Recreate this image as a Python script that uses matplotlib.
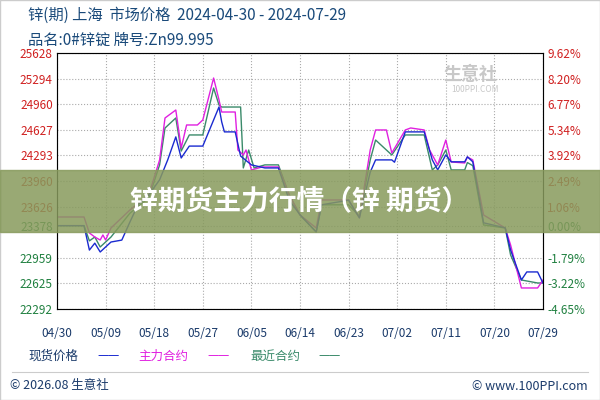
import matplotlib.pyplot as plt
import numpy as np

plt.rcParams['font.family'] = ['Noto Sans CJK SC', 'DejaVu Sans']

# days since 2024-04-30
spot_day = [0, 5, 6, 7, 8, 10, 12, 13.5, 15, 17, 19, 20.5, 22, 23, 24.5, 27, 30, 30.5, 31, 33, 34, 36, 38.5, 41,
            43, 45, 48, 49, 54, 56, 58, 59, 62, 62.5, 64.5, 68, 69.5, 70.5, 72, 73, 75.5, 76, 77, 79, 83, 84, 86, 87, 89, 90]
spot = [23378, 23378, 23060, 23150, 23035, 23165, 23190, 23425, 23650, 23780, 23975, 24235, 24535, 24260, 24415, 24415,
        24925, 24730, 24600, 24600, 24285, 24170, 24130, 24130, 23710, 23520, 23295, 23650, 23710, 23480, 24075, 24235,
        24235, 24205, 24600, 24600, 24235, 24105, 24300, 24210, 24210, 24275, 24210, 23415, 23350, 23060, 22670, 22775,
        22775, 22630]

main_day = [0, 5, 6, 7, 8, 8.5, 9, 10, 13.5, 17, 19, 20, 22, 23, 24, 26, 27, 29, 30, 30.5, 33, 33.5, 34.5, 35, 36, 38,
            41, 43, 45, 48, 49, 54, 56, 58, 59, 61, 62, 64.5, 65.5, 68, 69, 70.5, 72, 73, 75.5, 76, 77, 79, 83, 84, 86, 89, 90]
main = [23491, 23491, 23283, 23230, 23191, 23257, 23191, 23348, 23582, 23778, 24234, 24781, 24885, 24390, 24690, 24690,
        24755, 25302, 25016, 24859, 24859, 24364, 24299, 24364, 24104, 24143, 24143, 23778, 23517, 23348, 23713, 23713,
        23480, 24364, 24625, 24625, 24325, 24625, 24651, 24625, 24364, 24169, 24494, 24208, 24195, 24273, 24234, 23517,
        23348, 23126, 22566, 22566, 22670]

near_day = [0, 5, 6, 7, 8, 10, 13.5, 17, 19, 20, 22, 23, 24.5, 27, 29, 30, 30.5, 31, 34, 34.5, 35.5, 36.5, 38.5, 41,
            43, 45, 48, 49, 54, 56, 58, 59, 62, 64.5, 68, 69.5, 70.5, 72, 73, 75.5, 76, 77, 79, 83, 84, 86, 89, 90]
near = [23378, 23378, 23180, 23230, 23100, 23230, 23540, 23740, 24170, 24650, 24781, 24350, 24560, 24560, 25172, 24950,
        24924, 24924, 24924, 24130, 24364, 24130, 24170, 24170, 23778, 23517, 23296, 23650, 23650, 23500, 24234, 24494,
        24299, 24560, 24560, 24104, 24169, 24364, 24104, 24104, 24200, 24160, 23387, 23348, 22996, 22670, 22631, 22631]

yticks = [25628, 25294, 24960, 24627, 24293, 23960, 23626, 23378, 22959, 22625, 22292]
rlabels = ['9.62%', '8.20%', '6.77%', '5.34%', '3.92%', '2.49%', '1.06%', '0.00%', '-1.79%', '-3.22%', '-4.65%']
xticks = [0, 9, 18, 27, 36, 45, 54, 63, 72, 81, 90]
xlabels = ['04/30', '05/09', '05/18', '05/27', '06/05', '06/14', '06/23', '07/02', '07/11', '07/20', '07/29']

fig = plt.figure(figsize=(6, 4), dpi=100)
ax = fig.add_axes([57 / 600, 1 - 309 / 400, 486 / 600, 256 / 400])
ax.plot(near_day, near, color='#3a8a6a', lw=1)
ax.plot(main_day, main, color='#e020e0', lw=1)
ax.plot(spot_day, spot, color='#1a2ad0', lw=1)
ax.set_xlim(0, 90)
ax.set_ylim(22292, 25628)
ax.set_yticks(yticks)
ax.set_yticklabels([str(v) for v in yticks], fontsize=8.5)
for lab, v in zip(ax.get_yticklabels(), yticks):
    lab.set_color('#d02020' if v > 23378 else '#208040')
ax.set_xticks(xticks)
ax.set_xticklabels(xlabels, fontsize=8.5, color='#1a3a6a')
ax.grid(True, ls=':', color='#aaaaaa', lw=0.8)
ax.tick_params(axis='y', length=0, pad=3)
ax.tick_params(axis='x', length=0, pad=13)
for s in ax.spines.values():
    s.set_color('#888888')
ax2 = ax.twinx()
ax2.set_ylim(22292, 25628)
ax2.set_yticks(yticks)
ax2.set_yticklabels(rlabels, fontsize=8.5)
for lab, v in zip(ax2.get_yticklabels(), yticks):
    lab.set_color('#d02020' if v > 23378 else '#208040')
ax2.tick_params(length=0, pad=3)

fig.text(28 / 600, 1 - 15 / 400, '锌(期) 上海  市场价格  2024-04-30 - 2024-07-29', fontsize=11, color='#1a4a7a', va='center')
fig.text(28 / 600, 1 - 40 / 400, '品名:0#锌锭 牌号:Zn99.995', fontsize=11, color='#1a4a7a', va='center')
fig.text(470 / 600, 1 - 75 / 400, '生意社', fontsize=13, color='#c8c8c8', ha='center', va='center', weight='bold')
fig.text(475 / 600, 1 - 90 / 400, '100PPI.COM', fontsize=6, color='#c8c8c8', ha='center', va='center')

fig.text(28 / 600, 1 - 356 / 400, '现货价格', fontsize=9, color='#1a3a6a', va='center')
fig.text(97 / 600, 1 - 356 / 400, '——', fontsize=9, color='#1a2ad0', va='center')
fig.text(138 / 600, 1 - 356 / 400, '主力合约', fontsize=9, color='#e020e0', va='center')
fig.text(207 / 600, 1 - 356 / 400, '——', fontsize=9, color='#e020e0', va='center')
fig.text(250 / 600, 1 - 356 / 400, '最近合约', fontsize=9, color='#3a8a6a', va='center')
fig.text(318 / 600, 1 - 356 / 400, '——', fontsize=9, color='#3a8a6a', va='center')
fig.add_artist(plt.Line2D([0.02, 0.98], [1 - 372 / 400] * 2, color='#cccccc', lw=0.8))
fig.text(10 / 600, 1 - 386 / 400, '© 2026.08 生意社', fontsize=9, color='#1a3a6a', va='center')
fig.text(588 / 600, 1 - 386 / 400, '© www.100PPI.com', fontsize=9, color='#1a3a6a', va='center', ha='right')

band = plt.Rectangle((0, 1 - 232 / 400), 1, 62 / 400, transform=fig.transFigure,
                     color='#879a5c', alpha=0.85, zorder=10)
fig.add_artist(band)
fig.text(0.5, 1 - 201 / 400, '锌期货主力行情（锌 期货）', fontsize=20, color='white', weight='bold',
         ha='center', va='center', zorder=11)
fig.add_artist(plt.Rectangle((0, 0), 1, 1, transform=fig.transFigure, fill=False, ec='#cccccc', lw=1))

fig.savefig('out.png')
